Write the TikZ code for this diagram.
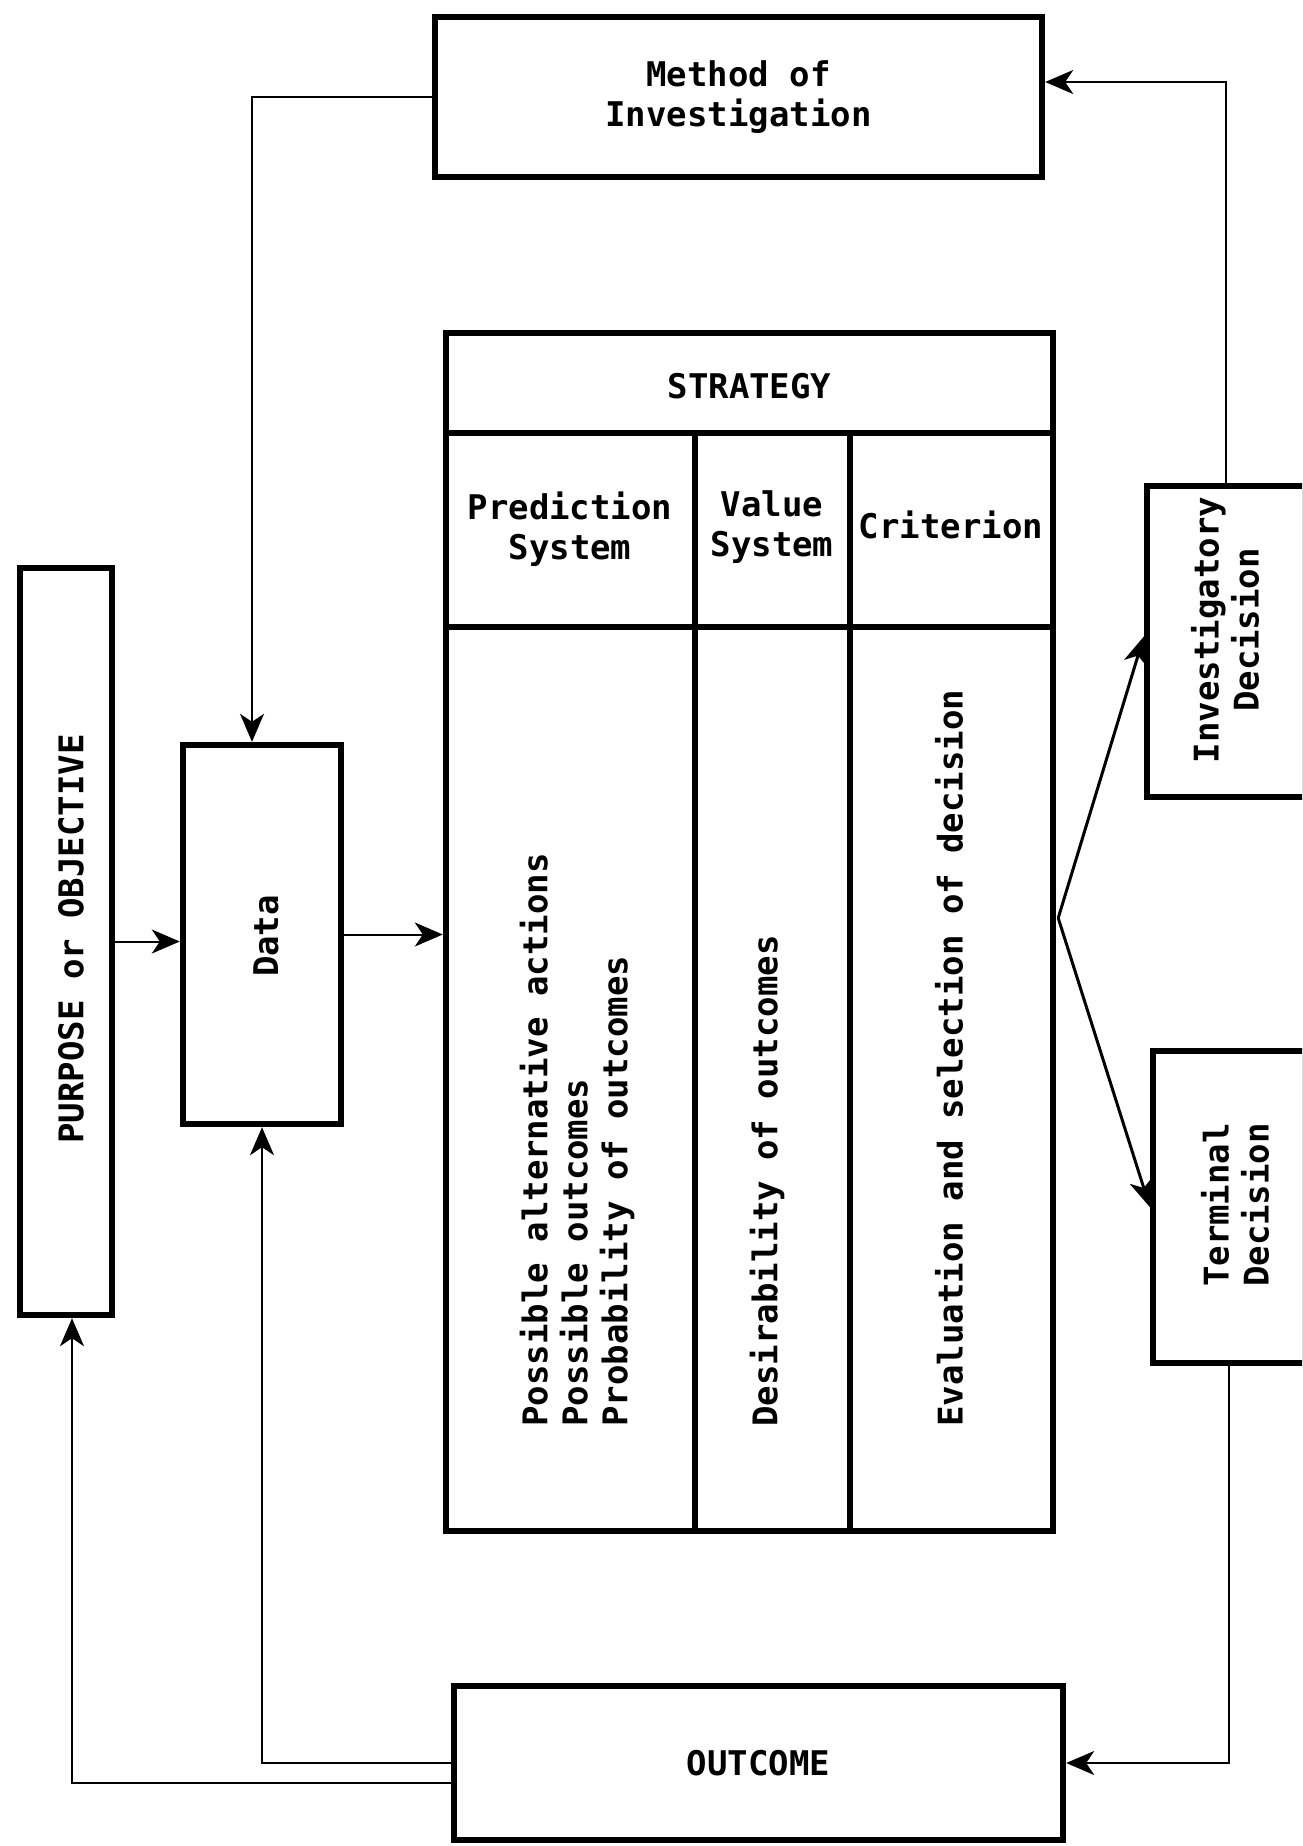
\documentclass[tikz,border=0pt]{standalone}
\usepackage{fontspec}
\newfontfamily\tw{DejaVu Sans Mono Bold}
\usetikzlibrary{arrows.meta,calc}
\begin{document}
\begin{tikzpicture}[x=0.5pt,y=-0.5pt,
  box/.style={draw, line width=3.2pt, inner sep=0pt, align=center, font=\tw\fontsize{17}{20}\selectfont},
  txt/.style={inner sep=0pt, align=center, font=\tw\fontsize{17}{20}\selectfont},
  divline/.style={line width=3.2pt},
  conn/.style={line width=1pt, -{Stealth[length=14pt,width=12pt,inset=4pt]}},
  dconn/.style={line width=1.5pt, -{Stealth[length=14pt,width=12pt,inset=4pt]}}]
\clip (0,0) rectangle (1302,1846);
\fill[white] (0,0) rectangle (1302,1846);

% boxes
\node[box, minimum width=303.5pt, minimum height=80pt] (meth) at (738.5,97) {Method of\\Investigation};
\node[box, minimum width=303.5pt, minimum height=599pt] (strat) at (749.5,932) {};
\node[box, minimum width=46pt, minimum height=373.5pt] (purp) at (66,941.5) {};
\node[box, minimum width=79pt, minimum height=189.5pt] (data) at (262,934.5) {};
\node[box, minimum width=79pt, minimum height=155.5pt] (inv) at (1226,641.5) {};
\node[box, minimum width=76pt, minimum height=156pt] (term) at (1229,1207) {};
\node[box, minimum width=304.5pt, minimum height=77pt] (out) at (758.5,1763) {OUTCOME};

% strategy grid
\coordinate (h1) at (0,433);
\coordinate (h2) at (0,627);
\coordinate (v1) at (695,0);
\coordinate (v2) at (850,0);
\draw[divline] (strat.west |- h1) -- (strat.east |- h1);
\draw[divline] (strat.west |- h2) -- (strat.east |- h2);
\draw[divline] (v1 |- h1) -- (v1 |- strat.south);
\draw[divline] (v2 |- h1) -- (v2 |- strat.south);

% texts
\node[txt] (tstrat) at (749.5,386) {STRATEGY};
\node[txt] (tpred) at (570,529) {Prediction\\System};
\node[txt] (tval) at (772,527) {Value\\System};
\node[txt] (tcrit) at (951,525) {Criterion};
\node[txt, rotate=90, anchor=west, align=left] (tb1) at (577,1427) {Possible alternative actions\\Possible outcomes\\Probability of outcomes};
\node[txt, rotate=90, anchor=west] (tb2) at (767,1427) {Desirability of outcomes};
\node[txt, rotate=90, anchor=west] (tb3) at (949,1427) {Evaluation and selection of decision};
\node[txt, rotate=90] (tpurp) at (71,939) {PURPOSE or OBJECTIVE};
\node[txt, rotate=90] (tdata) at (266,936) {Data};
\node[txt, rotate=90] (tinv) at (1225,630) {Investigatory\\Decision};
\node[txt, rotate=90] (tterm) at (1235,1205) {Terminal\\Decision};

% connectors
\draw[conn] (inv.north) |- ($(meth.east)+(0,-15)$);
\draw[conn] (meth.west) -| ($(data.north)+(-10,0)$);
\draw[conn] (purp.east) -- (purp.east -| data.west);
\draw[conn] (data.east) -- (data.east -| strat.west);
\coordinate (sp) at ($(strat.east)+(2,-14)$);
\draw[dconn] (sp) -- ($(inv.west)+(0,-5)$);
\draw[dconn] (sp) -- (term.west);
\draw[conn] (term.south) |- (out.east);
\draw[conn] (out.west) -| (data.south);
\draw[conn] ($(out.west)+(0,20)$) -| ($(purp.south)+(6,0)$);
\end{tikzpicture}
\end{document}
